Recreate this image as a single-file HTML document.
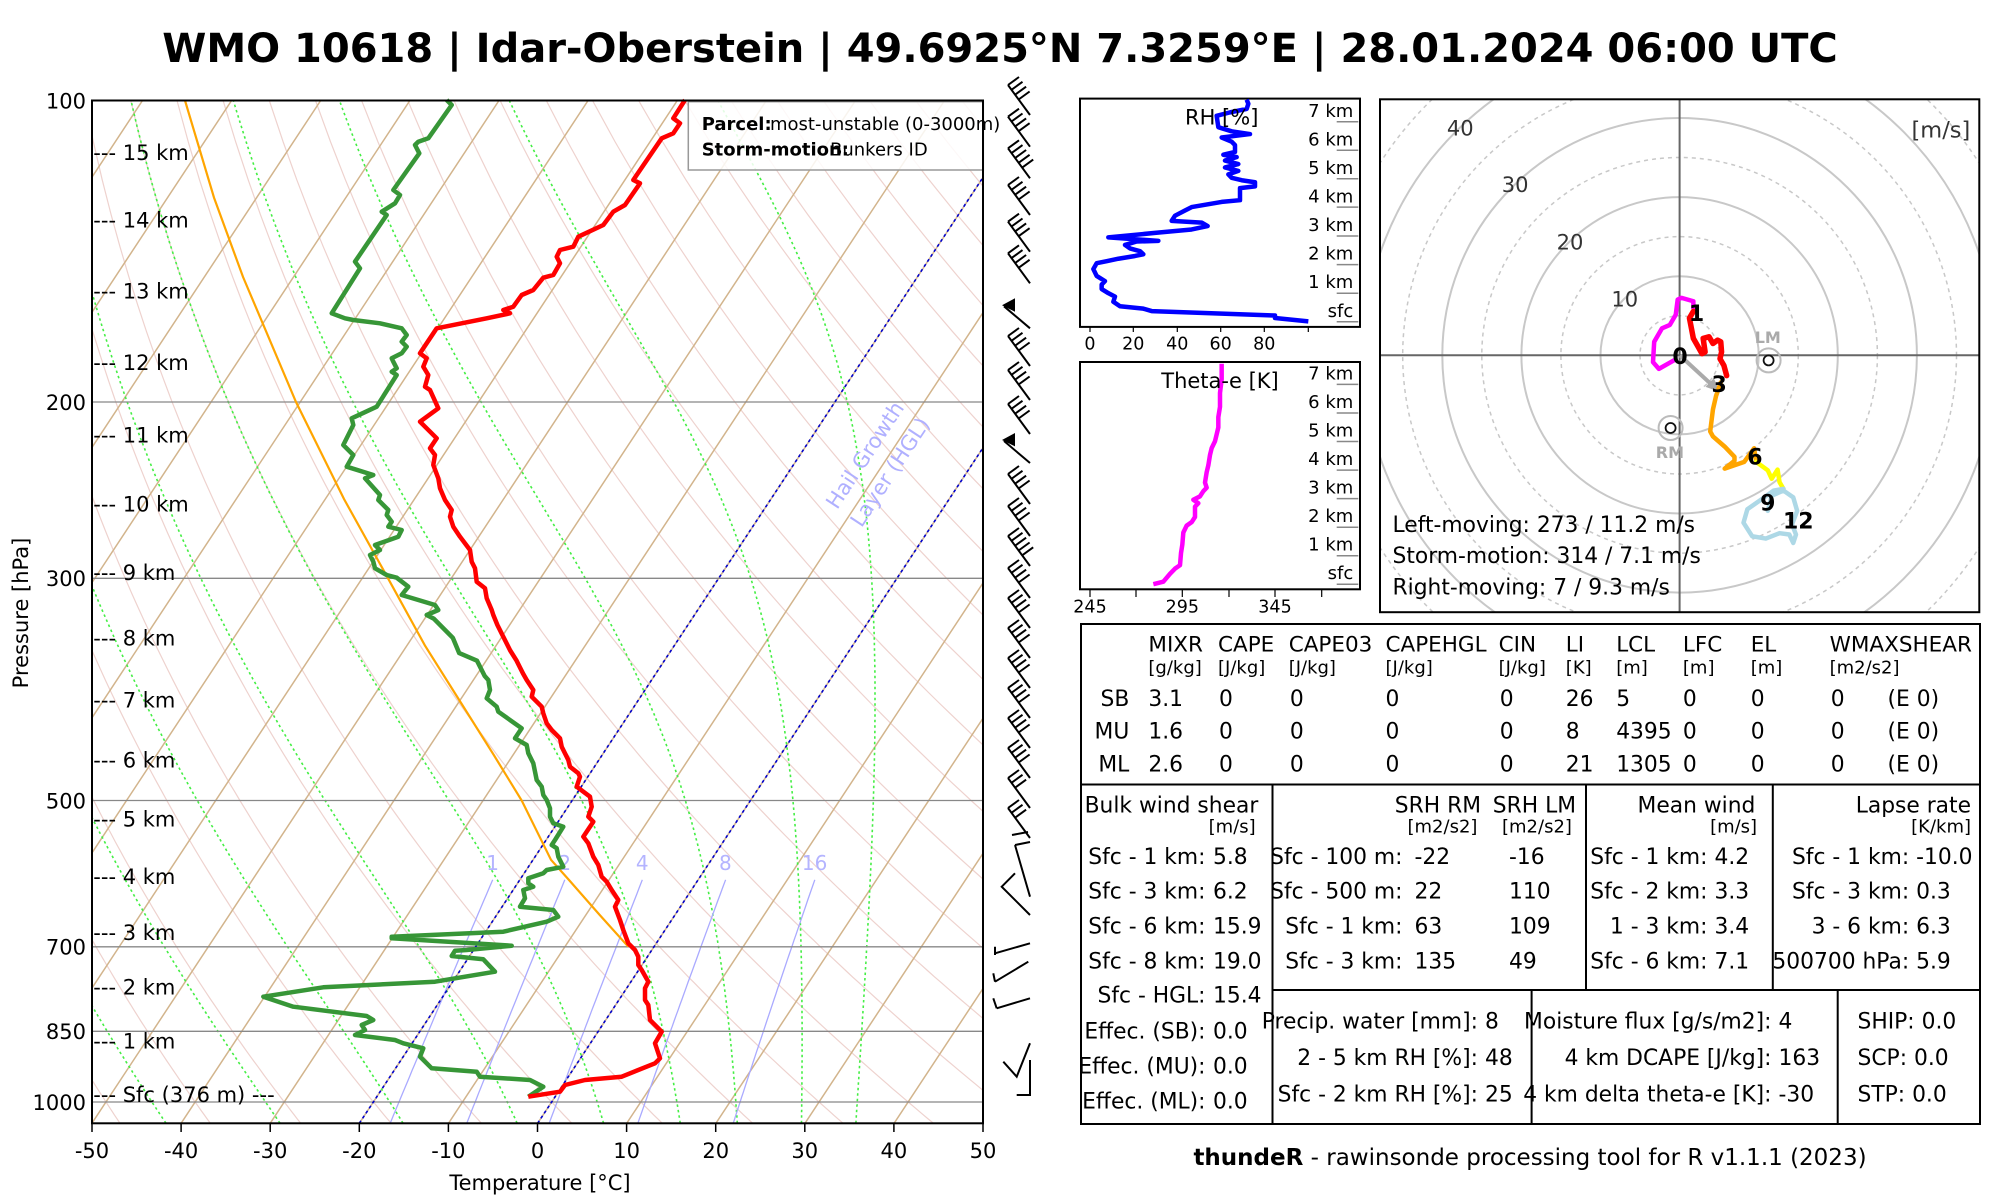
<!DOCTYPE html>
<html><head><meta charset="utf-8"><style>
html,body{margin:0;padding:0;background:#fff;}
svg{display:block;}
text{font-family:"DejaVu Sans","Liberation Sans",sans-serif;}
.t{font-size:21.8px;}
.u{font-size:18px;}
</style></head><body>
<svg xmlns="http://www.w3.org/2000/svg" width="2000" height="1200" viewBox="0 0 2000 1200">
<defs>
<clipPath id="cs"><rect x="92" y="100.5" width="891" height="1022.8"/></clipPath>
<clipPath id="ch"><rect x="1380" y="99.3" width="599.3" height="512.9"/></clipPath>
<g id="b4"><path d="M0,0L-22,-30M-22,-30l11,-8M-18.5,-25.2l11,-8M-14.9,-20.3l11,-8M-11.4,-15.5l11,-8" fill="none" stroke="#000" stroke-width="2"/></g>
<g id="b3"><path d="M0,0L-22,-30M-22,-30l11,-8M-18.5,-25.2l11,-8M-14.9,-20.3l11,-8" fill="none" stroke="#000" stroke-width="2"/></g>
<g id="b5"><path d="M0,0L-22,-30M-22,-30l11,-8M-18.5,-25.2l11,-8M-14.9,-20.3l11,-8M-11.4,-15.5l11,-8M-7.8,-10.7l11,-8" fill="none" stroke="#000" stroke-width="2"/></g>
<g id="bp"><path d="M0,0L-26,-22" fill="none" stroke="#000" stroke-width="2"/><path d="M-28,-23L-15,-30L-15,-16.6Z" fill="#000"/></g>
</defs>
<rect width="2000" height="1200" fill="#fff"/>

<!-- Title -->
<text x="1000" y="62" font-size="40" font-weight="bold" text-anchor="middle">WMO 10618 | Idar-Oberstein | 49.6925°N 7.3259°E | 28.01.2024 06:00 UTC</text>

<!-- Skew-T background -->
<g clip-path="url(#cs)">
<g id="bg"></g>
<g stroke="#888" stroke-width="1.3">
<line x1="92" y1="402" x2="983" y2="402"/>
<line x1="92" y1="578.3" x2="983" y2="578.3"/>
<line x1="92" y1="800.5" x2="983" y2="800.5"/>
<line x1="92" y1="946.8" x2="983" y2="946.8"/>
<line x1="92" y1="1031.3" x2="983" y2="1031.3"/>
<line x1="92" y1="1102" x2="983" y2="1102"/>
</g>
<g stroke="#0000cc" stroke-width="1.6" stroke-dasharray="3,3">
<line x1="359.3" y1="1123.3" x2="1033.7" y2="100.5"/>
<line x1="537.6" y1="1123.3" x2="1212" y2="100.5"/>
</g>
<g fill="#b4b4ff" font-size="20" text-anchor="middle">
<text x="492.6" y="870">1</text>
<text x="564.7" y="870">2</text>
<text x="642.2" y="870">4</text>
<text x="725.4" y="870">8</text>
<text x="814.6" y="870">16</text>
</g>
<g fill="#b0b0ff" font-size="21" text-anchor="middle">
<text transform="translate(871,459) rotate(-56.6)">Hail Growth</text>
<text transform="translate(896,476) rotate(-56.6)">Layer (HGL)</text>
</g>
</g>

<!-- Parcel -->
<polyline fill="none" stroke="#ffa500" stroke-width="2.2" points="628.3,946.7 599.4,914.6 568.9,879.9 551,859.8 521.7,800.5 493.6,754.7 461.4,703.5 424.9,645.4 388,578.3 344,499 296,402 243,276.9 214,197.6 185,100.5"/>

<!-- Dewpoint -->
<polyline fill="none" stroke="#379637" stroke-width="4.5" stroke-linejoin="round" points="446.7,100 451.7,105 428.3,138.3 418.3,141.7 415,145 419.3,153.3 393.3,190 400,195 395,203.3 381.7,211.7 386.7,215 355,261.7 360,268.3 331.7,313.3 345,318.3 353.3,320 380,323.3 401.7,328.3 406.7,335 401.7,341.7 406.7,346.7 401.7,353.3 391.7,358.3 393.3,361.7 396.7,368.3 391.7,371.7 396.7,375 376.7,406.7 351.7,418.3 353.3,425 343.3,445 353.3,455 346.7,466.7 373.3,475 365,478.3 380,495 378.3,500 388.3,510 386.7,515 391.7,521.7 388.3,526.7 401.7,530 398.3,536.7 375,545 380,550 370,555 373.3,561.7 375,568.3 386.7,575 396.7,577.7 408.3,586.7 401.7,595 435,605 438.3,610 426.7,615 433.7,618.6 452.8,637.8 459.2,653.1 477,660.7 484.7,676 488.3,680 490,690 486.7,698.3 496.7,706.7 498.3,711.7 521.7,728.3 515,738.3 526.7,745 528.3,753.3 533.3,763.3 535,771.7 536.7,780 541.7,786.7 543.3,795 546.7,800 550,808.3 550,816.7 553.3,823.3 563.3,826.7 555,840 551.7,845 556.7,848.3 558.3,856.7 563.3,866.7 546.7,870 543.3,873.3 528.3,878.3 528.3,883.3 533.3,886.7 523.3,890 525,898.3 520,906.7 553.3,910 558.3,916.7 546.7,921.7 503.3,931.7 391.7,936.7 391.7,938.3 511.7,945.7 466.7,950 455,950.7 451.7,956 483.3,959.3 495,971.7 435,981.7 323.3,987.3 263.3,996.7 293.3,1006.7 366.7,1016 373.3,1020 361.7,1025 365,1030 355,1035 395,1040 403.3,1043.3 423.3,1048.3 420,1056.7 431.7,1068.3 476.7,1071.7 480,1076.7 530,1080 543.3,1086.7 528.3,1096.7"/>

<!-- Temperature -->
<polyline fill="none" stroke="#ff0000" stroke-width="4.5" stroke-linejoin="round" points="685,100 673.3,118.3 680,123.3 673.3,133.3 661.7,138.3 633.3,180 640,183.3 625,205 613.3,211.7 603.3,225 578.3,236.7 573.3,246.7 560,250 556.7,256.7 560,263.3 553.3,275 543.3,277.7 533.3,290 521.7,295 513.3,306.7 503.3,310 510,313.3 486.7,318.3 436.7,328.3 420,353.3 426.7,358.3 423.3,366.7 428.3,375 425,386.7 430,390 438.3,408.3 420,421.7 436.7,438.3 430,448.3 435,455 433.3,465 438.3,478.3 440,488.3 445,500 451.7,510 450,516.7 453.3,526.7 460,536.7 470,550 471.7,561.7 475,568.3 476.7,581.7 485,588.3 486.7,598.3 491.7,610 493.3,615 497.4,625 503.8,637.8 510.2,650.5 516.6,660.7 523,673.5 526.7,680 533.3,690 531.7,696.7 541.7,706.7 543.3,713.3 546.7,723.3 551.7,730 560,738.3 561.7,746.7 568.3,760 570,766.7 578.3,773.3 580,776.7 576.7,786.7 590,796.7 591.7,806.7 588.3,816.7 593.3,821.7 583.3,836.7 588.3,843.3 593.3,856.7 598.3,865 601.7,876.7 606.7,881.7 611.7,890 618.3,900 615,906.7 620,920 623.3,930 628.3,943.3 635,950 638.3,956.7 638.3,965 641.7,970 648.3,981.7 645,988.3 645,1000 648.3,1005 650,1020 661.7,1031.7 655,1043.3 660,1058.3 655,1063.3 621.7,1076.7 585,1080 565,1085 560,1091.7 528.3,1096.7"/>

<!-- Legend -->
<rect x="688.3" y="101.7" width="295" height="68.3" fill="#fff" fill-opacity="0.85" stroke="#999" stroke-width="1.5"/>
<text x="701.7" y="130" font-size="18" font-weight="bold">Parcel:</text>
<text x="770" y="130" font-size="18">most-unstable (0-3000m)</text>
<text x="701.7" y="155.7" font-size="18" font-weight="bold">Storm-motion:</text>
<text x="830" y="155.7" font-size="18">Bunkers ID</text>

<!-- Axes box -->
<rect x="92" y="100.5" width="891" height="1022.8" fill="none" stroke="#000" stroke-width="2"/>

<!-- Pressure labels -->
<g font-size="21" text-anchor="end">
<text x="86" y="108.3">100</text>
<text x="86" y="409.8">200</text>
<text x="86" y="586">300</text>
<text x="86" y="808.3">500</text>
<text x="86" y="954.6">700</text>
<text x="86" y="1039">850</text>
<text x="86" y="1109.8">1000</text>
</g>
<text transform="translate(28,613) rotate(-90)" font-size="21" text-anchor="middle">Pressure [hPa]</text>

<!-- Height labels -->
<g font-size="21">
<text x="93.3" y="160">--- 15 km</text>
<text x="93.3" y="227.7">--- 14 km</text>
<text x="93.3" y="298.3">--- 13 km</text>
<text x="93.3" y="370">--- 12 km</text>
<text x="93.3" y="442.4">--- 11 km</text>
<text x="93.3" y="511.3">--- 10 km</text>
<text x="93.3" y="580.2">--- 9 km</text>
<text x="93.3" y="645.3">--- 8 km</text>
<text x="93.3" y="707.7">--- 7 km</text>
<text x="93.3" y="767.7">--- 6 km</text>
<text x="93.3" y="826.4">--- 5 km</text>
<text x="93.3" y="883.8">--- 4 km</text>
<text x="93.3" y="939.9">--- 3 km</text>
<text x="93.3" y="994.7">--- 2 km</text>
<text x="93.3" y="1048.3">--- 1 km</text>
<text x="93.3" y="1101.9">--- Sfc (376 m) ---</text>
</g>

<!-- X axis -->
<g stroke="#000" stroke-width="1.5">
<line x1="92" y1="1123.3" x2="92" y2="1132"/>
<line x1="181.1" y1="1123.3" x2="181.1" y2="1132"/>
<line x1="270.2" y1="1123.3" x2="270.2" y2="1132"/>
<line x1="359.3" y1="1123.3" x2="359.3" y2="1132"/>
<line x1="448.4" y1="1123.3" x2="448.4" y2="1132"/>
<line x1="537.5" y1="1123.3" x2="537.5" y2="1132"/>
<line x1="626.6" y1="1123.3" x2="626.6" y2="1132"/>
<line x1="715.7" y1="1123.3" x2="715.7" y2="1132"/>
<line x1="804.8" y1="1123.3" x2="804.8" y2="1132"/>
<line x1="893.9" y1="1123.3" x2="893.9" y2="1132"/>
<line x1="983" y1="1123.3" x2="983" y2="1132"/>
</g>
<g font-size="21" text-anchor="middle">
<text x="92" y="1158">-50</text>
<text x="181.1" y="1158">-40</text>
<text x="270.2" y="1158">-30</text>
<text x="359.3" y="1158">-20</text>
<text x="448.4" y="1158">-10</text>
<text x="537.5" y="1158">0</text>
<text x="626.6" y="1158">10</text>
<text x="715.7" y="1158">20</text>
<text x="804.8" y="1158">30</text>
<text x="893.9" y="1158">40</text>
<text x="983" y="1158">50</text>
</g>
<text x="540" y="1190" font-size="21" text-anchor="middle">Temperature [°C]</text>

<!-- Wind barbs -->
<g>
<use href="#b4" x="1030" y="115"/>
<use href="#b4" x="1030" y="146.7"/>
<use href="#b5" x="1030" y="178.3"/>
<use href="#b4" x="1030" y="215"/>
<use href="#b4" x="1030" y="251.7"/>
<use href="#b4" x="1030" y="283.3"/>
<use href="#bp" x="1030" y="328.3"/>
<use href="#b4" x="1030" y="366"/>
<use href="#b4" x="1030" y="400"/>
<use href="#b4" x="1030" y="434"/>
<use href="#bp" x="1030" y="463"/>
<use href="#b4" x="1030" y="504"/>
<use href="#b4" x="1030" y="536"/>
<use href="#b5" x="1030" y="566"/>
<use href="#b4" x="1030" y="598"/>
<use href="#b4" x="1030" y="628"/>
<use href="#b4" x="1030" y="658"/>
<use href="#b4" x="1030" y="688"/>
<use href="#b4" x="1030" y="718"/>
<use href="#b4" x="1030" y="748"/>
<use href="#b4" x="1030" y="778"/>
<use href="#b3" x="1030" y="808"/>
<use href="#b3" x="1030" y="838"/>
</g>
<path fill="none" stroke="#000" stroke-width="2" d="M1030,896.7L1015,845M1015,845l15,-3M1012,835l16,-3
M1030,915L1001.7,886.7L1015,873.3
M995,953.3L1030,943.3M995,946.7L995,955
M995,981.7L1028.3,961.7M993.3,973.3L995,981.7
M996.7,1008.3L1030,998.3M993.3,998.3L996.7,1008.3
M1030,1043.3L1016.7,1076.7L1003.3,1061.7
M1030,1060L1030,1095L1016.7,1095"/>

<!-- RH panel -->
<rect x="1080" y="98.6" width="280" height="228.3" fill="none" stroke="#000" stroke-width="2"/>
<g transform="translate(1075,90) scale(0.33333,0.34435)">
<polyline fill="none" stroke="#0000ff" stroke-width="4.5" vector-effect="non-scaling-stroke" stroke-linejoin="round" points="700,672 600,662 600,655 230,642 205,635 135,628 115,615 120,600 100,590 80,578 80,565 90,555 65,540 55,520 65,503 95,497 130,490 180,482 205,477 195,468 165,460 150,450 185,440 250,438 100,428 240,415 350,405 398,395 380,385 290,380 300,365 330,350 350,340 440,325 495,320 495,285 540,280 540,268 500,262 470,255 460,245 490,235 450,225 490,215 450,205 485,195 445,188 480,180 480,160 470,150 440,138 525,128 470,120 430,108 425,75 465,65 515,55 520,40 515,28"/>
<polyline fill="none" stroke="#ff00ff" stroke-width="4.5" vector-effect="non-scaling-stroke" stroke-linejoin="round" points="235,1435 265,1428 285,1405 300,1390 315,1380 318,1345 322,1320 325,1285 335,1265 350,1255 360,1240 360,1210 370,1200 355,1190 375,1180 385,1165 395,1155 390,1140 395,1110 400,1090 405,1060 410,1040 420,1020 425,1000 430,980 430,950 435,920 435,880 440,840 440,795"/>
</g>
<text x="1221.7" y="124.4" font-size="21" text-anchor="middle">RH [%]</text>
<g font-size="18" text-anchor="end">
<text x="1353.3" y="116.9">7 km</text>
<text x="1353.3" y="145.5">6 km</text>
<text x="1353.3" y="174">5 km</text>
<text x="1353.3" y="202.6">4 km</text>
<text x="1353.3" y="231.1">3 km</text>
<text x="1353.3" y="259.7">2 km</text>
<text x="1353.3" y="288.2">1 km</text>
<text x="1353.3" y="316.8">sfc</text>
</g>
<g stroke="#888" stroke-width="1.5">
<line x1="1336.7" y1="121.7" x2="1358.3" y2="121.7"/>
<line x1="1336.7" y1="150.3" x2="1358.3" y2="150.3"/>
<line x1="1336.7" y1="178.8" x2="1358.3" y2="178.8"/>
<line x1="1336.7" y1="207.1" x2="1358.3" y2="207.1"/>
<line x1="1336.7" y1="236" x2="1358.3" y2="236"/>
<line x1="1336.7" y1="264.6" x2="1358.3" y2="264.6"/>
<line x1="1336.7" y1="293.2" x2="1358.3" y2="293.2"/>
<line x1="1336.7" y1="321.7" x2="1358.3" y2="321.7"/>
</g>
<g stroke="#000" stroke-width="1.2">
<line x1="1090" y1="327" x2="1090" y2="332"/>
<line x1="1133.3" y1="327" x2="1133.3" y2="332"/>
<line x1="1177.3" y1="327" x2="1177.3" y2="332"/>
<line x1="1220.7" y1="327" x2="1220.7" y2="332"/>
<line x1="1264.3" y1="327" x2="1264.3" y2="332"/>
<line x1="1308.3" y1="327" x2="1308.3" y2="332"/>
</g>
<g font-size="17.5" text-anchor="middle">
<text x="1090" y="349.5">0</text>
<text x="1133.3" y="349.5">20</text>
<text x="1177.3" y="349.5">40</text>
<text x="1220.7" y="349.5">60</text>
<text x="1264.3" y="349.5">80</text>
</g>

<!-- Theta-e panel -->
<rect x="1080" y="362" width="280" height="227.3" fill="none" stroke="#000" stroke-width="2"/>
<text x="1220" y="387.9" font-size="21" text-anchor="middle">Theta-e [K]</text>
<g font-size="18" text-anchor="end">
<text x="1353.3" y="379.3">7 km</text>
<text x="1353.3" y="407.9">6 km</text>
<text x="1353.3" y="436.4">5 km</text>
<text x="1353.3" y="465">4 km</text>
<text x="1353.3" y="493.5">3 km</text>
<text x="1353.3" y="522.1">2 km</text>
<text x="1353.3" y="550.6">1 km</text>
<text x="1353.3" y="579.2">sfc</text>
</g>
<g stroke="#888" stroke-width="1.5">
<line x1="1336.7" y1="384.4" x2="1358.3" y2="384.4"/>
<line x1="1336.7" y1="413" x2="1358.3" y2="413"/>
<line x1="1336.7" y1="441.5" x2="1358.3" y2="441.5"/>
<line x1="1336.7" y1="470.1" x2="1358.3" y2="470.1"/>
<line x1="1336.7" y1="498.6" x2="1358.3" y2="498.6"/>
<line x1="1336.7" y1="527.2" x2="1358.3" y2="527.2"/>
<line x1="1336.7" y1="555.7" x2="1358.3" y2="555.7"/>
<line x1="1336.7" y1="584.3" x2="1358.3" y2="584.3"/>
</g>
<g stroke="#000" stroke-width="1.2">
<line x1="1090" y1="589.3" x2="1090" y2="597"/>
<line x1="1136" y1="589.3" x2="1136" y2="597"/>
<line x1="1182.3" y1="589.3" x2="1182.3" y2="597"/>
<line x1="1229" y1="589.3" x2="1229" y2="597"/>
<line x1="1275" y1="589.3" x2="1275" y2="597"/>
<line x1="1321.7" y1="589.3" x2="1321.7" y2="597"/>
</g>
<g font-size="17.5" text-anchor="middle">
<text x="1090" y="612.4">245</text>
<text x="1182.3" y="612.4">295</text>
<text x="1275" y="612.4">345</text>
</g>

<!-- Hodograph -->
<g clip-path="url(#ch)">
<g fill="none" stroke="#c8c8c8">
<circle cx="1679.6" cy="355.3" r="79.1" stroke-width="2"/>
<circle cx="1679.6" cy="355.3" r="158.2" stroke-width="2"/>
<circle cx="1679.6" cy="355.3" r="237.3" stroke-width="2"/>
<circle cx="1679.6" cy="355.3" r="316.4" stroke-width="2"/>
<circle cx="1679.6" cy="355.3" r="395.5" stroke-width="2"/>
<circle cx="1679.6" cy="355.3" r="39.6" stroke-width="1.5" stroke-dasharray="4,4"/>
<circle cx="1679.6" cy="355.3" r="118.7" stroke-width="1.5" stroke-dasharray="4,4"/>
<circle cx="1679.6" cy="355.3" r="197.8" stroke-width="1.5" stroke-dasharray="4,4"/>
<circle cx="1679.6" cy="355.3" r="276.9" stroke-width="1.5" stroke-dasharray="4,4"/>
<circle cx="1679.6" cy="355.3" r="356" stroke-width="1.5" stroke-dasharray="4,4"/>
</g>
<line x1="1380" y1="355.3" x2="1980" y2="355.3" stroke="#666" stroke-width="2"/>
<line x1="1679.6" y1="99" x2="1679.6" y2="612" stroke="#666" stroke-width="2"/>
</g>
<rect x="1380" y="99.3" width="599.3" height="512.9" fill="none" stroke="#000" stroke-width="2"/>
<g font-size="21" fill="#333" text-anchor="middle">
<text x="1624.8" y="306.5">10</text>
<text x="1570" y="249.6">20</text>
<text x="1515.1" y="192.2">30</text>
<text x="1460.3" y="135.4">40</text>
</g>
<text x="1970.3" y="137.3" font-size="22.5" fill="#333" text-anchor="end">[m/s]</text>
<circle cx="1768.6" cy="360.4" r="12" fill="none" stroke="#bbb" stroke-width="2"/>
<circle cx="1768.6" cy="360.4" r="5" fill="none" stroke="#111" stroke-width="1.8"/>
<text x="1767.8" y="343" font-size="16" font-weight="bold" fill="#aaa" text-anchor="middle">LM</text>
<circle cx="1670.6" cy="428" r="12" fill="none" stroke="#bbb" stroke-width="2"/>
<circle cx="1670.6" cy="428" r="5" fill="none" stroke="#111" stroke-width="1.8"/>
<text x="1669.9" y="458" font-size="16" font-weight="bold" fill="#aaa" text-anchor="middle">RM</text>
<line x1="1680" y1="355.5" x2="1712" y2="385" stroke="#aaa" stroke-width="4"/>
<polygon points="1720,392 1705.6,386.9 1713.8,378.1" fill="#aaa"/>
<g transform="translate(1380,95) scale(0.3917,0.3381)" fill="none" stroke-width="4.5" stroke-linejoin="round" stroke-linecap="round">
<polyline vector-effect="non-scaling-stroke" stroke="#ff00ff" points="750,785 712,810 697,790 700,730 720,690 740,680 755,650 760,605 770,600 800,610 800,630"/>
<polyline vector-effect="non-scaling-stroke" stroke="#ff0000" stroke-width="5.5" points="800,640 790,660 795,690 800,720 810,740 822,765 830,760 825,720 840,715 850,735 862,725 870,730 872,760 868,780 878,800 885,830"/>
<polyline vector-effect="non-scaling-stroke" stroke="#ffa500" points="870,850 858,890 850,930 843,995 850,1010 880,1040 905,1070 905,1082 880,1105 930,1085 955,1045 960,1080"/>
<polyline vector-effect="non-scaling-stroke" stroke="#ffff00" points="960,1085 990,1110 1000,1135 1015,1108 1020,1145 1030,1165"/>
<polyline vector-effect="non-scaling-stroke" stroke="#add8e6" points="1030,1165 1005,1170 975,1195 938,1225 928,1265 950,1305 985,1312 1020,1296 1045,1300 1055,1325 1062,1300 1052,1270 1065,1230 1055,1190 1030,1170 1000,1185 990,1230"/>
</g>
<g font-size="22" font-weight="bold" text-anchor="middle">
<text x="1680" y="364">0</text>
<text x="1696.5" y="321">1</text>
<text x="1719.2" y="392">3</text>
<text x="1754.9" y="464.7">6</text>
<text x="1767.8" y="510.4">9</text>
<text x="1798.3" y="528.3">12</text>
</g>
<g class="t">
<text x="1392.5" y="531.8">Left-moving: 273 / 11.2 m/s</text>
<text x="1392.5" y="563.2">Storm-motion: 314 / 7.1 m/s</text>
<text x="1392.5" y="594.7">Right-moving: 7 / 9.3 m/s</text>
</g>

<!-- Table -->
<g fill="none" stroke="#000" stroke-width="2">
<rect x="1081" y="624" width="899" height="500"/>
<line x1="1081" y1="784.5" x2="1980" y2="784.5"/>
<line x1="1272.5" y1="990" x2="1980" y2="990"/>
<line x1="1272.5" y1="784.5" x2="1272.5" y2="1124"/>
<line x1="1586" y1="784.5" x2="1586" y2="990"/>
<line x1="1772.8" y1="784.5" x2="1772.8" y2="990"/>
<line x1="1531.6" y1="990" x2="1531.6" y2="1124"/>
<line x1="1837.7" y1="990" x2="1837.7" y2="1124"/>
</g>
<g font-size="21.5">
<text x="1148.4" y="651.7">MIXR</text>
<text x="1218" y="651.7">CAPE</text>
<text x="1288.7" y="651.7">CAPE03</text>
<text x="1385.5" y="651.7">CAPEHGL</text>
<text x="1498.6" y="651.7">CIN</text>
<text x="1565.8" y="651.7">LI</text>
<text x="1616.2" y="651.7">LCL</text>
<text x="1682.9" y="651.7">LFC</text>
<text x="1750.7" y="651.7">EL</text>
<text x="1829.6" y="651.7">WMAXSHEAR</text>
</g>
<g class="u">
<text x="1148.4" y="673.3">[g/kg]</text>
<text x="1218" y="673.3">[J/kg]</text>
<text x="1288.7" y="673.3">[J/kg]</text>
<text x="1385.5" y="673.3">[J/kg]</text>
<text x="1498.6" y="673.3">[J/kg]</text>
<text x="1565.8" y="673.3">[K]</text>
<text x="1616.2" y="673.3">[m]</text>
<text x="1682.9" y="673.3">[m]</text>
<text x="1750.7" y="673.3">[m]</text>
<text x="1829.6" y="673.3">[m2/s2]</text>
</g>
<g class="t">
<text x="1129.3" y="706" text-anchor="end">SB</text>
<text x="1129.3" y="738.3" text-anchor="end">MU</text>
<text x="1129.3" y="771.7" text-anchor="end">ML</text>
<text x="1148.4" y="706">3.1</text><text x="1219" y="706">0</text><text x="1289.9" y="706">0</text><text x="1385.5" y="706">0</text><text x="1499.7" y="706">0</text><text x="1565.8" y="706">26</text><text x="1616.2" y="706">5</text><text x="1682.9" y="706">0</text><text x="1750.7" y="706">0</text><text x="1830.7" y="706">0</text><text x="1887.5" y="706">(E 0)</text>
<text x="1148.4" y="738.3">1.6</text><text x="1219" y="738.3">0</text><text x="1289.9" y="738.3">0</text><text x="1385.5" y="738.3">0</text><text x="1499.7" y="738.3">0</text><text x="1565.8" y="738.3">8</text><text x="1616.2" y="738.3">4395</text><text x="1682.9" y="738.3">0</text><text x="1750.7" y="738.3">0</text><text x="1830.7" y="738.3">0</text><text x="1887.5" y="738.3">(E 0)</text>
<text x="1148.4" y="771.7">2.6</text><text x="1219" y="771.7">0</text><text x="1289.9" y="771.7">0</text><text x="1385.5" y="771.7">0</text><text x="1499.7" y="771.7">0</text><text x="1565.8" y="771.7">21</text><text x="1616.2" y="771.7">1305</text><text x="1682.9" y="771.7">0</text><text x="1750.7" y="771.7">0</text><text x="1830.7" y="771.7">0</text><text x="1887.5" y="771.7">(E 0)</text>

<text x="1084.6" y="812.7">Bulk wind shear</text>
<text x="1394.8" y="812.7">SRH RM</text>
<text x="1492.8" y="812.7">SRH LM</text>
<text x="1755.4" y="812.7" text-anchor="end">Mean wind</text>
<text x="1971" y="812.7" text-anchor="end">Lapse rate</text>
</g>
<g class="u">
<text x="1255.7" y="832.7" text-anchor="end">[m/s]</text>
<text x="1407.5" y="832.7">[m2/s2]</text>
<text x="1502" y="832.7">[m2/s2]</text>
<text x="1757.1" y="832.7" text-anchor="end">[m/s]</text>
<text x="1971" y="832.7" text-anchor="end">[K/km]</text>
</g>
<g class="t" text-anchor="end">
<text x="1205.5" y="864">Sfc - 1 km:</text>
<text x="1205.5" y="898.3">Sfc - 3 km:</text>
<text x="1205.5" y="933.3">Sfc - 6 km:</text>
<text x="1205.5" y="968.3">Sfc - 8 km:</text>
<text x="1205.5" y="1002.7">Sfc - HGL:</text>
<text x="1205.5" y="1038.3">Effec. (SB):</text>
<text x="1205.5" y="1073.3">Effec. (MU):</text>
<text x="1205.5" y="1108.3">Effec. (ML):</text>
<text x="1402.5" y="864">Sfc - 100 m:</text>
<text x="1402.5" y="898.3">Sfc - 500 m:</text>
<text x="1402.5" y="933.3">Sfc - 1 km:</text>
<text x="1402.5" y="968.3">Sfc - 3 km:</text>
<text x="1707.5" y="864">Sfc - 1 km:</text>
<text x="1707.5" y="898.3">Sfc - 2 km:</text>
<text x="1707.5" y="933.3">1 - 3 km:</text>
<text x="1707.5" y="968.3">Sfc - 6 km:</text>
<text x="1909.2" y="864">Sfc - 1 km:</text>
<text x="1909.2" y="898.3">Sfc - 3 km:</text>
<text x="1909.2" y="933.3">3 - 6 km:</text>
<text x="1909.2" y="968.3">500700 hPa:</text>
<text x="1478" y="1028.3">Precip. water [mm]:</text>
<text x="1478" y="1065">2 - 5 km RH [%]:</text>
<text x="1478" y="1101.7">Sfc - 2 km RH [%]:</text>
<text x="1771.5" y="1028.3">Moisture flux [g/s/m2]:</text>
<text x="1771.5" y="1065">4 km DCAPE [J/kg]:</text>
<text x="1771.5" y="1101.7">4 km delta theta-e [K]:</text>
</g>
<g class="t">
<text x="1213" y="864">5.8</text>
<text x="1213" y="898.3">6.2</text>
<text x="1213" y="933.3">15.9</text>
<text x="1213" y="968.3">19.0</text>
<text x="1213" y="1002.7">15.4</text>
<text x="1213" y="1038.3">0.0</text>
<text x="1213" y="1073.3">0.0</text>
<text x="1213" y="1108.3">0.0</text>
<text x="1414.5" y="864">-22</text>
<text x="1414.5" y="898.3">22</text>
<text x="1414.5" y="933.3">63</text>
<text x="1414.5" y="968.3">135</text>
<text x="1509" y="864">-16</text>
<text x="1509" y="898.3">110</text>
<text x="1509" y="933.3">109</text>
<text x="1509" y="968.3">49</text>
<text x="1714.5" y="864">4.2</text>
<text x="1714.5" y="898.3">3.3</text>
<text x="1714.5" y="933.3">3.4</text>
<text x="1714.5" y="968.3">7.1</text>
<text x="1916.1" y="864">-10.0</text>
<text x="1916.1" y="898.3">0.3</text>
<text x="1916.1" y="933.3">6.3</text>
<text x="1916.1" y="968.3">5.9</text>
<text x="1485" y="1028.3">8</text>
<text x="1485" y="1065">48</text>
<text x="1485" y="1101.7">25</text>
<text x="1778.5" y="1028.3">4</text>
<text x="1778.5" y="1065">163</text>
<text x="1778.5" y="1101.7">-30</text>
<text x="1857.5" y="1028.3">SHIP: 0.0</text>
<text x="1857.5" y="1065">SCP: 0.0</text>
<text x="1857.5" y="1101.7">STP: 0.0</text>
</g>

<!-- Footer -->
<text x="1530" y="1165" font-size="23" text-anchor="middle"><tspan font-weight="bold">thundeR</tspan> - rawinsonde processing tool for R v1.1.1 (2023)</text>
</svg>
<script>
(function(){
var NS="http://www.w3.org/2000/svg";
var g=document.getElementById("bg");
function yp(p){return 100.5+1001.5*Math.log(p/100)/Math.LN10;}
function xt(T,y){return 537.6+8.913*T+0.6594*(1123.3-y);}
function add(pts,st,w,dash){var s="";for(var i=0;i<pts.length;i++){s+=pts[i][0].toFixed(1)+","+pts[i][1].toFixed(1)+" ";}
var e=document.createElementNS(NS,"polyline");e.setAttribute("points",s);e.setAttribute("fill","none");e.setAttribute("stroke",st);e.setAttribute("stroke-width",w);if(dash)e.setAttribute("stroke-dasharray",dash);g.appendChild(e);}
var th,p,T,y,pts,i;
for(th=193.15;th<=513.15;th+=10){pts=[];for(p=1050;p>=95;p-=10){T=th*Math.pow(p/1000,0.2857)-273.15;y=yp(p);pts.push([xt(T,y),y]);}add(pts,"#eed2ce",1.2);}
for(T=-140;T<=50;T+=10){add([[xt(T,1123.3),1123.3],[xt(T,100.5),100.5]],"#d2b48c",1.5);}
function es(t){return 6.112*Math.exp(17.67*t/(t+243.5));}
function lapse(t,pp){var Tk=t+273.15;var e=es(t);var r=0.622*e/(pp-e);return (287.04*Tk+2.501e6*r)/(1005.7+2.501e6*2.501e6*r*0.622/(287.04*Tk*Tk))/pp;}
var starts=[-41.7,-28.9,-15.1,-2.3,7.4,16.0,22.4,29.6,35.7];
for(i=0;i<starts.length;i++){T=starts[i];p=1050;y=yp(p);pts=[[xt(T,y),y]];
while(p>96){var dp=-4;var k1=lapse(T,p);var k2=lapse(T+k1*dp,p+dp);T+=0.5*(k1+k2)*dp;p+=dp;y=yp(p);pts.push([xt(T,y),y]);}
add(pts,"#44ee44",1.6,"2.5,3");}
var ws=[1,2,4,8,16];
for(i=0;i<ws.length;i++){pts=[];for(p=1050;p>=600;p-=10){var e=ws[i]*p/(622+ws[i]);var l=Math.log(e/6.112);var Td=243.5*l/(17.67-l);y=yp(p);pts.push([xt(Td,y),y]);}add(pts,"#aaaaff",1.3);}
})();
</script>
</body></html>
